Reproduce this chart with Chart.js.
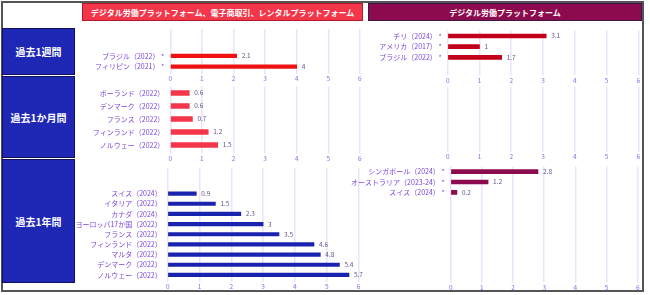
<!DOCTYPE html>
<html lang="ja">
<head>
<meta charset="utf-8">
<script src="https://cdn.jsdelivr.net/npm/chart.js@4.4.1/dist/chart.umd.min.js"></script>
<style>
  body { margin: 0; width: 650px; height: 295px; background: #fff; position: relative; overflow: hidden; font-family: "Noto Sans CJK JP", sans-serif; }
  .frame { position: absolute; left: 1px; top: 1px; width: 643px; height: 291px; box-sizing: border-box; border: 2px solid #555; }
  .head { position: absolute; top: 3px; height: 18px; box-sizing: border-box; color: #fff; font-weight: 700; font-size: 8px; display: flex; align-items: center; justify-content: center; white-space: nowrap; }
  .period { position: absolute; left: 2px; width: 73px; box-sizing: border-box; background: #1f27b5; border: 1px solid #10105a; color: #fff; font-weight: 700; font-size: 10px; display: flex; align-items: center; justify-content: center; }
  .panel { position: absolute; }
</style>
</head>
<body>
<div class="frame"></div>
<div class="head" style="left:82px;width:281px;background:#f4364a;border:1px solid #b3192a">デジタル労働プラットフォーム、電子商取引、レンタルプラットフォーム</div>
<div class="head" style="left:368px;width:274px;background:#8c0a4e;border:1px solid #3a1848">デジタル労働プラットフォーム</div>
<div class="period" style="top:28px;height:47px">過去1週間</div>
<div class="period" style="top:76px;height:82px">過去1か月間</div>
<div class="period" style="top:159px;height:124px">過去1年間</div>

<div class="panel"><canvas id="week-all-chart"></canvas></div>
<div class="panel"><canvas id="week-dlp-chart"></canvas></div>
<div class="panel"><canvas id="month-all-chart"></canvas></div>
<div class="panel"><canvas id="month-dlp-chart"></canvas></div>
<div class="panel"><canvas id="year-all-chart"></canvas></div>
<div class="panel"><canvas id="year-dlp-chart"></canvas></div>

<script>
// 過去1週間
const weekAllNames = ['ブラジル（2022） *', 'フィリピン（2021） *'];
const weekAllValues = [2.1, 4];
const weekDlpNames = ['チリ（2024） *', 'アメリカ（2017） *', 'ブラジル（2022） *'];
const weekDlpValues = [3.1, 1, 1.7];

// 過去1か月間
const monthAllNames = ['ポーランド（2022）', 'デンマーク（2022）', 'フランス（2022）', 'フィンランド（2022）', 'ノルウェー（2022）'];
const monthAllValues = [0.6, 0.6, 0.7, 1.2, 1.5];
const monthDlpNames = [];
const monthDlpValues = [];

// 過去1年間
const yearAllNames = ['スイス（2024）', 'イタリア（2022）', 'カナダ（2024）', 'ヨーロッパ17か国（2022）', 'フランス（2022）',
    'フィンランド（2022）', 'マルタ（2022）', 'デンマーク（2022）', 'ノルウェー（2022）'];
const yearAllValues = [0.9, 1.5, 2.3, 3, 3.5, 4.6, 4.8, 5.4, 5.7];
const yearDlpNames = ['シンガポール（2024） *', 'オーストラリア（2023-24） *', 'スイス（2024） *'];
const yearDlpValues = [2.8, 1.2, 0.2];

const xTicks = [0, 1, 2, 3, 4, 5, 6];

Chart.defaults.font.family = '"Noto Sans CJK JP", sans-serif';

const valueLabels = {
    id: 'valueLabels',
    afterDatasetsDraw(chart) {
        const ctx = chart.ctx;
        const values = chart.data.datasets[0].data;
        ctx.save();
        ctx.font = '6.5px "Noto Sans CJK JP"';
        ctx.fillStyle = '#62548f';
        ctx.textBaseline = 'middle';
        chart.getDatasetMeta(0).data.forEach((bar, i) => {
            if (values[i] == null) return;
            ctx.fillText(String(values[i]), bar.x + 5, bar.y);
        });
        ctx.restore();
    }
};

function renderPanel(id, names, values, cfg) {
    const canvas = document.getElementById(id);
    const a = cfg.area;
    const cLeft = cfg.colLeft;
    const cTop = Math.round(a.t - 12);
    const cRight = Math.round(a.r + 10);
    const cBottom = Math.round(a.b + 15);
    canvas.parentElement.style.left = cLeft + 'px';
    canvas.parentElement.style.top = cTop + 'px';
    canvas.width = cRight - cLeft;
    canvas.height = cBottom - cTop;

    const labels = Array(cfg.before).fill('').concat(names, Array(cfg.after).fill(''));
    const data = Array(cfg.before).fill(null).concat(values, Array(cfg.after).fill(null));

    new Chart(canvas, {
        type: 'bar',
        data: {
            labels: labels,
            datasets: [{ data: data, backgroundColor: cfg.color, barThickness: cfg.thickness }]
        },
        options: {
            indexAxis: 'y',
            responsive: false,
            animation: false,
            layout: { padding: { top: a.t - cTop, right: cRight - a.r, left: 0, bottom: 0 } },
            plugins: { legend: { display: false }, tooltip: { enabled: false } },
            scales: {
                x: {
                    min: xTicks[0],
                    max: xTicks[xTicks.length - 1],
                    ticks: { stepSize: 1, color: '#8a6cec', font: { size: 6.5 }, padding: 1 },
                    grid: { color: '#ece2fd', lineWidth: 1.5, tickLength: 2 },
                    border: { display: false },
                    afterFit: s => { s.height = cBottom - a.b; }
                },
                y: {
                    ticks: { color: '#7b45e0', font: { size: 7 }, padding: 6, autoSkip: false },
                    grid: { display: false, drawTicks: false },
                    border: { display: false },
                    afterFit: s => { s.width = a.l - cLeft; }
                }
            }
        },
        plugins: [valueLabels]
    });
}

renderPanel('week-all-chart', weekAllNames, weekAllValues, {
    colLeft: 76, area: { l: 170.3, r: 359.9, t: 29, b: 72 }, before: 2, after: 0, color: '#f01212', thickness: 3.5
});
renderPanel('week-dlp-chart', weekDlpNames, weekDlpValues, {
    colLeft: 330, area: { l: 447.7, r: 638.3, t: 30.7, b: 73.3 }, before: 0, after: 1, color: '#c2001a', thickness: 4
});
renderPanel('month-all-chart', monthAllNames, monthAllValues, {
    colLeft: 76, area: { l: 170.3, r: 359.9, t: 86.5, b: 151.5 }, before: 0, after: 0, color: '#f4364a', thickness: 5
});
renderPanel('month-dlp-chart', monthDlpNames, monthDlpValues, {
    colLeft: 330, area: { l: 447.7, r: 638.3, t: 86.7, b: 150 }, before: 0, after: 0, color: '#8c0a4e', thickness: 4
});
renderPanel('year-all-chart', yearAllNames, yearAllValues, {
    colLeft: 76, area: { l: 167.7, r: 358.5, t: 168.2, b: 280 }, before: 2, after: 0, color: '#1a22b0', thickness: 3.5
});
renderPanel('year-dlp-chart', yearDlpNames, yearDlpValues, {
    colLeft: 330, area: { l: 450.7, r: 637.7, t: 166.4, b: 280.5 }, before: 0, after: 8, color: '#8c0a4e', thickness: 4
});
</script>
</body>
</html>
